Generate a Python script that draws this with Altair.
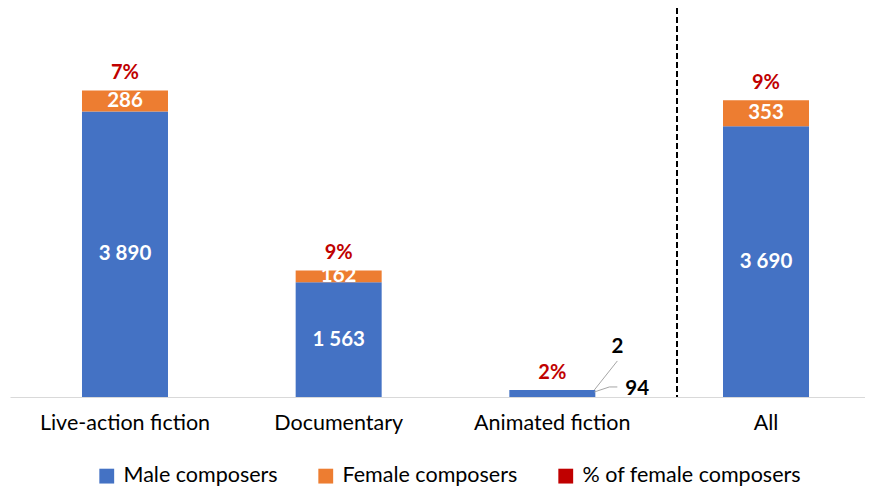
import altair as alt
import pandas as pd

categories = ["Live-action fiction", "Documentary", "Animated fiction", "All"]
male = [3890, 1563, 94, 3690]
female = [286, 162, 2, 353]
pct_female = ["7%", "9%", "2%", "9%"]
series = ["Male composers", "Female composers", "% of female composers"]
colors = ["#4472C4", "#ED7D31", "#C00000"]
separator_before = "All"
outside_label_cat = "Animated fiction"

FONT = "Lato"
W, H = 855, 389
YMAX = 5300


def fmt(v):
    return f"{v:,}".replace(",", " ")


rows = []
for c, m, f in zip(categories, male, female):
    rows.append(dict(cat=c, series=series[0], start=0, end=m, value=m, mid=m / 2))
    rows.append(dict(cat=c, series=series[1], start=m, end=m + f, value=f, mid=m + f / 2))
bars_df = pd.DataFrame(rows)
bars_df["label"] = bars_df["value"].map(fmt)

tot_df = pd.DataFrame(dict(
    cat=categories,
    total=[m + f for m, f in zip(male, female)],
    pct=pct_female,
    mlabel=[fmt(v) for v in male],
    flabel=[fmt(v) for v in female],
))
anim_df = tot_df[tot_df["cat"] == outside_label_cat]
sep_df = pd.DataFrame(dict(cat=[separator_before]))

xscale = alt.Scale(domain=categories, paddingInner=0.5975, paddingOuter=0.2995, align=0.5625)
x_axis = alt.X(
    "cat:N", scale=xscale, sort=categories,
    axis=alt.Axis(title=None, labelAngle=0, ticks=False, domainColor="#D9D9D9", domainWidth=1,
                  labelFont=FONT, labelFontSize=21.5, labelColor="black", labelPadding=15,
                  labelLimit=400),
)
x = alt.X("cat:N", sort=categories)
yscale = alt.Scale(domain=[0, YMAX], nice=False, zero=True)

bars = alt.Chart(bars_df).mark_bar().encode(
    x=x_axis,
    y=alt.Y("start:Q", scale=yscale, axis=None),
    y2="end:Q",
    color=alt.Color(
        "series:N",
        scale=alt.Scale(domain=series, range=colors),
        legend=alt.Legend(
            orient="none", legendX=86, legendY=457, direction="horizontal", title=None,
            symbolType="square", symbolSize=220, symbolStrokeWidth=0, symbolOpacity=1,
            labelFontSize=21.5, labelFont=FONT, labelColor="black", columnPadding=37,
            labelOffset=6, labelLimit=0,
        ),
    ),
)

inside = alt.Chart(bars_df).transform_filter(
    alt.datum.cat != outside_label_cat
).mark_text(color="white", fontWeight="bold", fontSize=20.5, font=FONT, baseline="middle").encode(
    x=x, y=alt.Y("mid:Q", scale=yscale), text="label:N"
)

pct = alt.Chart(tot_df).mark_text(
    color="#C00000", fontWeight="bold", fontSize=20, font=FONT, baseline="alphabetic", dy=-11
).encode(x=x, y=alt.Y("total:Q", scale=yscale), text="pct:N")

lab_f = alt.Chart(anim_df).mark_text(
    color="black", fontWeight="bold", fontSize=20.5, font=FONT, baseline="middle", align="center",
    dx=65, dy=-43,
).encode(x=x, y=alt.Y("total:Q", scale=yscale), text="flabel:N")

lab_m = alt.Chart(anim_df).mark_text(
    color="black", fontWeight="bold", fontSize=20.5, font=FONT, baseline="middle", align="left",
    dx=73, dy=-1,
).encode(x=x, y=alt.Y("total:Q", scale=yscale), text="mlabel:N")


def leader(x0, x1, y0, y1):
    return alt.Chart(anim_df).mark_rule(
        color="#A6A6A6", strokeWidth=1, xOffset=x0, x2Offset=x1, yOffset=y0, y2Offset=y1
    ).encode(
        x=x, x2=alt.X2("cat"), y=alt.Y("total:Q", scale=yscale), y2=alt.Y2("total")
    )


lead1 = leader(42, 65, 0, -29)
lead2 = leader(42, 57, 2, -3)
lead3 = leader(57, 65, -3, -3)

sep = alt.Chart(sep_df).mark_rule(
    strokeDash=[6, 3], strokeWidth=2, color="black", xOffset=-46
).encode(x=alt.X("cat:N", sort=categories, bandPosition=0))

chart = alt.layer(bars, inside, pct, lab_f, lab_m, lead1, lead2, lead3, sep).properties(
    width=W, height=H,
    padding={"left": 2, "top": 0, "right": 0, "bottom": 90},
    autosize=alt.AutoSizeParams(type="none"),
).configure_view(stroke=None)

chart.save("out.html", embed_options={"renderer": "svg", "actions": False})
